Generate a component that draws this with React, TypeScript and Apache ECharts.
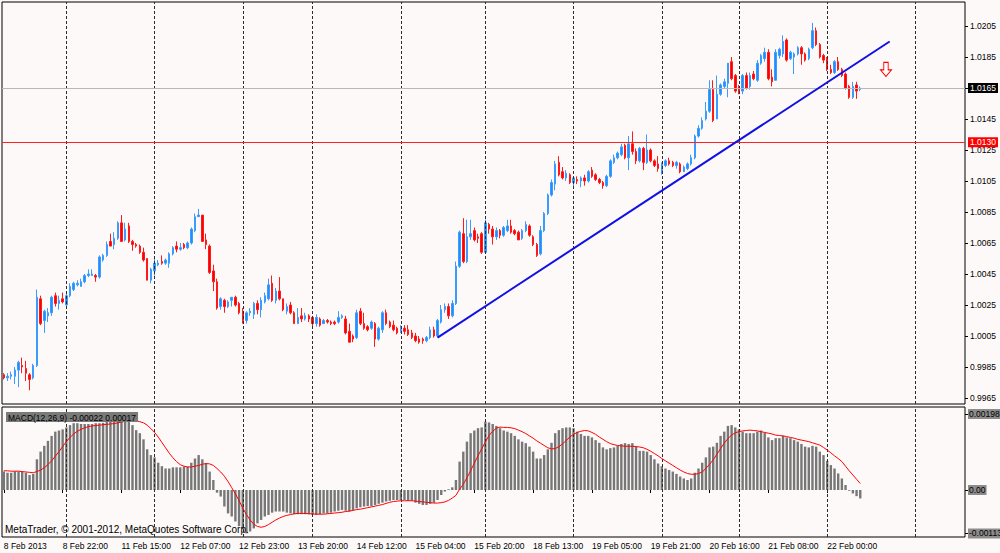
import React, { useEffect, useRef } from "react";
import * as echarts from "echarts";

// ---------- data ----------
const tickLabels = [
  "8 Feb 2013", "8 Feb 22:00", "11 Feb 15:00", "12 Feb 07:00", "12 Feb 23:00",
  "13 Feb 20:00", "14 Feb 12:00", "15 Feb 04:00", "15 Feb 20:00", "18 Feb 13:00",
  "19 Feb 05:00", "19 Feb 21:00", "20 Feb 16:00", "21 Feb 08:00", "22 Feb 00:00",
];
const labelEvery = 16;
const totalSlots = 262;
const daySeparators = [17, 41, 65, 84, 108, 131, 155, 179, 200, 224, 248];

const priceTicks = [0.9965, 0.9985, 1.0005, 1.0025, 1.0045, 1.0065, 1.0085, 1.0105, 1.0125, 1.0145, 1.0165, 1.0185, 1.0205];
const macdTicks = [-0.00113, 0, 0.00198];

const bidPrice = 1.0165;
const alertPrice = 1.013;
const trendStart = [118, 1.0004];
const trendEnd = [241, 1.0195];
const arrowMark = [240, 1.0177];

const opens = [
  0.9980,0.9978,0.9979,0.9979,0.9983,0.9986,0.9984,0.9980,0.9978,0.9986,
  1.0029,1.0015,1.0018,1.0020,1.0031,1.0026,1.0029,1.0025,1.0031,1.0035,
  1.0038,1.0037,1.0040,1.0044,1.0044,1.0044,1.0043,1.0054,1.0057,1.0066,
  1.0064,1.0068,1.0078,1.0067,1.0076,1.0066,1.0064,1.0063,1.0059,1.0055,
  1.0041,1.0047,1.0051,1.0053,1.0052,1.0052,1.0058,1.0063,1.0061,1.0064,
  1.0062,1.0065,1.0073,1.0082,1.0083,1.0067,1.0063,1.0047,1.0040,1.0024,
  1.0028,1.0024,1.0028,1.0030,1.0026,1.0021,1.0015,1.0020,1.0019,1.0026,
  1.0022,1.0027,1.0029,1.0039,1.0028,1.0034,1.0029,1.0021,1.0025,1.0020,
  1.0013,1.0018,1.0016,1.0018,1.0017,1.0013,1.0016,1.0013,1.0015,1.0014,
  1.0014,1.0014,1.0017,1.0016,1.0008,1.0005,1.0004,1.0021,1.0013,1.0011,
  1.0010,1.0013,1.0003,1.0009,1.0020,1.0014,1.0012,1.0010,1.0008,1.0010,
  1.0009,1.0007,1.0005,1.0003,1.0003,1.0002,1.0004,1.0009,1.0005,1.0014,
  1.0022,1.0024,1.0018,1.0026,1.0050,1.0071,1.0053,1.0069,1.0073,1.0069,
  1.0071,1.0059,1.0077,1.0074,1.0069,1.0073,1.0070,1.0073,1.0076,1.0073,
  1.0072,1.0068,1.0073,1.0076,1.0069,1.0064,1.0058,1.0073,1.0084,1.0096,
  1.0103,1.0117,1.0111,1.0107,1.0109,1.0104,1.0106,1.0105,1.0107,1.0105,
  1.0112,1.0109,1.0106,1.0104,1.0102,1.0108,1.0117,1.0120,1.0122,1.0128,
  1.0120,1.0129,1.0124,1.0118,1.0126,1.0117,1.0125,1.0118,1.0116,1.0110,
  1.0115,1.0118,1.0117,1.0115,1.0116,1.0111,1.0113,1.0116,1.0120,1.0134,
  1.0139,1.0145,1.0150,1.0164,1.0145,1.0161,1.0166,1.0168,1.0182,1.0173,
  1.0166,1.0163,1.0173,1.0166,1.0174,1.0170,1.0181,1.0184,1.0188,1.0172,
  1.0170,1.0186,1.0187,1.0196,1.0184,1.0185,1.0187,1.0191,1.0187,1.0184,
  1.0191,1.0202,1.0193,1.0186,1.0184,1.0177,1.0175,1.0182,1.0177,1.0174,
  1.0166,1.0159,1.0167,1.0164,
];
const highs = [
  0.9981,0.9981,0.9982,0.9985,0.9989,0.9991,0.9989,0.9981,0.9987,1.0035,
  1.0031,1.0022,1.0023,1.0031,1.0033,1.0031,1.0033,1.0033,1.0039,1.0040,
  1.0041,1.0042,1.0045,1.0048,1.0048,1.0045,1.0057,1.0058,1.0066,1.0071,
  1.0072,1.0079,1.0083,1.0078,1.0078,1.0067,1.0065,1.0064,1.0062,1.0055,
  1.0049,1.0055,1.0054,1.0057,1.0055,1.0059,1.0063,1.0066,1.0065,1.0065,
  1.0066,1.0075,1.0084,1.0087,1.0083,1.0071,1.0064,1.0051,1.0042,1.0030,
  1.0029,1.0028,1.0030,1.0031,1.0027,1.0023,1.0021,1.0023,1.0027,1.0028,
  1.0030,1.0033,1.0042,1.0044,1.0036,1.0043,1.0029,1.0026,1.0027,1.0021,
  1.0023,1.0023,1.0020,1.0019,1.0018,1.0019,1.0017,1.0016,1.0016,1.0015,
  1.0015,1.0021,1.0019,1.0018,1.0013,1.0006,1.0022,1.0023,1.0020,1.0012,
  1.0015,1.0014,1.0011,1.0021,1.0022,1.0015,1.0015,1.0011,1.0012,1.0012,
  1.0012,1.0009,1.0007,1.0005,1.0004,1.0005,1.0011,1.0011,1.0016,1.0025,
  1.0026,1.0026,1.0028,1.0053,1.0073,1.0081,1.0080,1.0080,1.0075,1.0071,
  1.0072,1.0080,1.0078,1.0076,1.0075,1.0074,1.0076,1.0080,1.0080,1.0074,
  1.0073,1.0074,1.0079,1.0077,1.0070,1.0065,1.0076,1.0085,1.0097,1.0106,
  1.0118,1.0121,1.0114,1.0112,1.0110,1.0108,1.0108,1.0108,1.0109,1.0112,
  1.0114,1.0110,1.0107,1.0105,1.0109,1.0119,1.0122,1.0124,1.0129,1.0129,
  1.0134,1.0137,1.0126,1.0127,1.0127,1.0135,1.0126,1.0119,1.0121,1.0117,
  1.0119,1.0120,1.0118,1.0118,1.0117,1.0115,1.0117,1.0122,1.0135,1.0141,
  1.0146,1.0156,1.0170,1.0170,1.0173,1.0168,1.0171,1.0181,1.0185,1.0174,
  1.0167,1.0174,1.0175,1.0175,1.0176,1.0183,1.0187,1.0191,1.0190,1.0177,
  1.0190,1.0191,1.0199,1.0197,1.0189,1.0188,1.0192,1.0192,1.0188,1.0191,
  1.0207,1.0204,1.0194,1.0187,1.0185,1.0180,1.0183,1.0185,1.0178,1.0175,
  1.0167,1.0169,1.0169,1.0166,
];
const lows = [
  0.9977,0.9976,0.9977,0.9974,0.9972,0.9981,0.9976,0.9970,0.9977,0.9985,
  1.0012,1.0007,1.0014,1.0018,1.0024,1.0022,1.0026,1.0024,1.0030,1.0034,
  1.0037,1.0037,1.0039,1.0043,1.0044,1.0040,1.0042,1.0053,1.0056,1.0063,
  1.0061,1.0067,1.0066,1.0066,1.0065,1.0060,1.0062,1.0058,1.0053,1.0041,
  1.0039,1.0044,1.0050,1.0051,1.0051,1.0049,1.0057,1.0059,1.0060,1.0061,
  1.0061,1.0064,1.0072,1.0082,1.0066,1.0061,1.0045,1.0034,1.0022,1.0022,
  1.0020,1.0023,1.0024,1.0024,1.0019,1.0013,1.0013,1.0018,1.0016,1.0019,
  1.0017,1.0026,1.0028,1.0027,1.0026,1.0028,1.0021,1.0019,1.0019,1.0013,
  1.0013,1.0014,1.0015,1.0014,1.0011,1.0011,1.0011,1.0013,1.0013,1.0012,
  1.0012,1.0013,1.0016,1.0006,1.0001,1.0001,1.0003,1.0012,1.0009,1.0008,
  1.0009,0.9998,1.0002,1.0007,1.0012,1.0010,1.0008,1.0006,1.0007,1.0006,
  1.0005,1.0003,1.0001,1.0000,1.0000,1.0001,1.0003,1.0004,1.0004,1.0013,
  1.0020,1.0016,1.0017,1.0025,1.0049,1.0052,1.0052,1.0067,1.0066,1.0065,
  1.0058,1.0058,1.0071,1.0064,1.0067,1.0068,1.0069,1.0072,1.0071,1.0070,
  1.0067,1.0067,1.0072,1.0069,1.0063,1.0056,1.0057,1.0072,1.0083,1.0095,
  1.0099,1.0108,1.0106,1.0105,1.0103,1.0100,1.0103,1.0101,1.0102,1.0104,
  1.0107,1.0105,1.0103,1.0100,1.0101,1.0107,1.0116,1.0119,1.0121,1.0119,
  1.0112,1.0122,1.0116,1.0117,1.0112,1.0116,1.0117,1.0114,1.0111,1.0109,
  1.0114,1.0115,1.0114,1.0113,1.0110,1.0111,1.0112,1.0115,1.0119,1.0133,
  1.0138,1.0144,1.0149,1.0143,1.0145,1.0160,1.0165,1.0159,1.0170,1.0162,
  1.0161,1.0161,1.0164,1.0164,1.0170,1.0169,1.0180,1.0182,1.0170,1.0166,
  1.0170,1.0184,1.0185,1.0182,1.0183,1.0174,1.0186,1.0180,1.0182,1.0183,
  1.0190,1.0192,1.0184,1.0181,1.0176,1.0174,1.0174,1.0176,1.0172,1.0164,
  1.0158,1.0158,1.0158,1.0163,
];
const closes = [
  0.9978,0.9979,0.9980,0.9983,0.9988,0.9985,0.9981,0.9977,0.9986,1.0030,
  1.0013,1.0021,1.0020,1.0030,1.0026,1.0028,1.0027,1.0031,1.0037,1.0039,
  1.0039,1.0040,1.0044,1.0045,1.0045,1.0043,1.0056,1.0057,1.0064,1.0063,
  1.0068,1.0078,1.0066,1.0074,1.0066,1.0064,1.0063,1.0059,1.0054,1.0041,
  1.0048,1.0052,1.0052,1.0052,1.0054,1.0058,1.0062,1.0061,1.0062,1.0062,
  1.0065,1.0074,1.0082,1.0083,1.0066,1.0064,1.0046,1.0040,1.0023,1.0029,
  1.0024,1.0027,1.0030,1.0025,1.0020,1.0015,1.0020,1.0021,1.0026,1.0022,
  1.0028,1.0031,1.0038,1.0028,1.0034,1.0029,1.0022,1.0024,1.0020,1.0013,
  1.0017,1.0016,1.0018,1.0016,1.0013,1.0017,1.0012,1.0015,1.0014,1.0013,
  1.0013,1.0017,1.0018,1.0007,1.0001,1.0003,1.0020,1.0013,1.0010,1.0009,
  1.0014,1.0003,1.0010,1.0020,1.0013,1.0011,1.0009,1.0007,1.0010,1.0008,
  1.0006,1.0004,1.0002,1.0001,1.0002,1.0004,1.0009,1.0005,1.0015,1.0022,
  1.0024,1.0018,1.0026,1.0050,1.0072,1.0053,1.0069,1.0071,1.0067,1.0068,
  1.0059,1.0078,1.0074,1.0069,1.0073,1.0070,1.0075,1.0076,1.0072,1.0071,
  1.0067,1.0073,1.0077,1.0070,1.0064,1.0057,1.0073,1.0084,1.0096,1.0104,
  1.0116,1.0109,1.0107,1.0110,1.0104,1.0107,1.0105,1.0107,1.0105,1.0111,
  1.0108,1.0106,1.0104,1.0102,1.0108,1.0118,1.0120,1.0123,1.0127,1.0120,
  1.0129,1.0124,1.0118,1.0126,1.0117,1.0125,1.0118,1.0115,1.0113,1.0116,
  1.0118,1.0116,1.0115,1.0117,1.0111,1.0114,1.0116,1.0120,1.0134,1.0139,
  1.0144,1.0150,1.0164,1.0144,1.0161,1.0167,1.0169,1.0181,1.0171,1.0163,
  1.0162,1.0173,1.0165,1.0173,1.0171,1.0181,1.0186,1.0188,1.0171,1.0169,
  1.0188,1.0190,1.0195,1.0183,1.0188,1.0187,1.0191,1.0187,1.0183,1.0190,
  1.0202,1.0193,1.0185,1.0183,1.0177,1.0175,1.0182,1.0177,1.0173,1.0165,
  1.0159,1.0166,1.0163,1.0165,
];

const macdMain = [
  0.00048,0.00045,0.00045,0.00048,0.00048,0.00048,0.00045,0.00039,0.00042,0.0008,
  0.001,0.00115,0.00128,0.00141,0.00152,0.00155,0.00158,0.00163,0.00169,0.00174,
  0.00174,0.00172,0.00172,0.00172,0.00172,0.00174,0.00174,0.00175,0.0018,0.00184,
  0.00189,0.00194,0.00198,0.00195,0.00186,0.00169,0.00156,0.00148,0.00132,0.00106,
  0.00091,0.00085,0.00071,0.00062,0.00056,0.00056,0.00059,0.00059,0.00059,0.00061,
  0.00061,0.00071,0.00082,0.00091,0.0008,0.00069,0.00048,0.00026,-0.00007,-0.00017,
  -0.00043,-0.00061,-0.00069,-0.00082,-0.00094,-0.00102,-0.00113,-0.00108,-0.001,-0.00087,
  -0.00078,-0.00069,-0.00065,-0.00059,-0.00056,-0.00056,-0.00056,-0.00059,-0.00061,-0.00063,
  -0.00063,-0.00063,-0.00063,-0.00063,-0.00065,-0.00065,-0.00063,-0.00061,-0.00061,-0.00059,
  -0.00056,-0.00054,-0.00052,-0.00054,-0.00056,-0.00052,-0.00048,-0.00045,-0.00043,-0.00042,
  -0.00042,-0.00039,-0.00036,-0.00033,-0.0003,-0.00028,-0.00026,-0.00026,-0.00026,-0.00026,
  -0.00028,-0.00028,-0.00033,-0.00036,-0.00039,-0.00039,-0.00036,-0.00033,-0.00026,-0.00013,
  -0.00004,0.00002,0.00007,0.00026,0.00074,0.001,0.00126,0.00148,0.00155,0.00161,
  0.00163,0.00178,0.00176,0.00172,0.00167,0.00161,0.00155,0.00152,0.00148,0.00141,
  0.00132,0.00126,0.00122,0.00113,0.001,0.00082,0.00082,0.00091,0.00106,0.00123,
  0.00148,0.00156,0.00161,0.00163,0.00163,0.00161,0.00152,0.00146,0.00141,0.00141,
  0.00137,0.0013,0.00123,0.00111,0.00106,0.00109,0.00111,0.00115,0.0012,0.00122,
  0.0012,0.00122,0.00113,0.00102,0.00102,0.001,0.00091,0.0008,0.00069,0.00062,
  0.00056,0.00052,0.00048,0.00042,0.00035,0.0003,0.00026,0.0003,0.00045,0.00056,
  0.00071,0.00085,0.00111,0.00113,0.00123,0.00141,0.00152,0.00167,0.00169,0.00163,
  0.00158,0.00152,0.00148,0.00148,0.00148,0.00152,0.00155,0.00149,0.00137,0.0013,
  0.00135,0.00135,0.00141,0.00137,0.00135,0.0013,0.00126,0.0012,0.00113,0.00111,
  0.00115,0.00113,0.001,0.00091,0.00076,0.00065,0.00056,0.00043,0.0003,0.00013,
  -0.00002,-0.00009,-0.00016,-0.00022,
];
const macdSignal = [
  0.0005,0.0005,0.00049,0.00049,0.00049,0.00048,0.00047,0.00046,0.00045,0.00048,
  0.00052,0.00058,0.00066,0.00076,0.00088,0.001,0.00113,0.00126,0.00137,0.00146,
  0.00153,0.00158,0.00162,0.00165,0.00167,0.00168,0.00169,0.0017,0.00171,0.00172,
  0.00173,0.00175,0.00177,0.00179,0.0018,0.0018,0.0018,0.00178,0.00175,0.00169,
  0.0016,0.0015,0.00138,0.00124,0.0011,0.00096,0.00084,0.00074,0.00066,0.00062,
  0.0006,0.0006,0.00062,0.00064,0.00067,0.00069,0.00068,0.00064,0.00056,0.00047,
  0.00036,0.00022,0.00006,-0.0001,-0.00028,-0.00047,-0.00064,-0.00078,-0.00089,-0.00095,
  -0.00097,-0.00095,-0.0009,-0.00084,-0.00078,-0.00073,-0.00069,-0.00066,-0.00064,-0.00062,
  -0.00061,-0.00061,-0.00061,-0.00062,-0.00062,-0.00063,-0.00063,-0.00063,-0.00062,-0.00061,
  -0.0006,-0.00059,-0.00058,-0.00056,-0.00055,-0.00053,-0.00051,-0.0005,-0.00048,-0.00046,
  -0.00044,-0.00042,-0.0004,-0.00038,-0.00035,-0.00032,-0.0003,-0.00029,-0.00028,-0.00028,
  -0.00028,-0.00028,-0.00029,-0.0003,-0.00031,-0.00032,-0.00033,-0.00034,-0.00034,-0.00033,
  -0.00031,-0.00027,-0.00021,-0.00014,0.00002,0.00015,0.00032,0.0005,0.0007,0.00089,
  0.00107,0.00125,0.00142,0.00153,0.00161,0.00164,0.00163,0.00163,0.00162,0.0016,
  0.00156,0.00152,0.00147,0.00141,0.00135,0.00128,0.00122,0.00116,0.0011,0.00107,
  0.00108,0.00113,0.0012,0.00129,0.00138,0.00145,0.0015,0.00153,0.00155,0.00154,
  0.0015,0.00145,0.00138,0.00132,0.00126,0.00121,0.00118,0.00116,0.00115,0.00114,
  0.00114,0.00114,0.00113,0.00112,0.0011,0.00106,0.00101,0.00095,0.00089,0.00082,
  0.00076,0.0007,0.00064,0.00058,0.00052,0.00047,0.00043,0.00041,0.00041,0.00043,
  0.00047,0.00056,0.00067,0.00079,0.00093,0.00108,0.00122,0.00134,0.00143,0.00149,
  0.00152,0.00154,0.00155,0.00156,0.00155,0.00154,0.00152,0.0015,0.00148,0.00146,
  0.00143,0.00142,0.00141,0.00139,0.00137,0.00135,0.00132,0.0013,0.00128,0.00126,
  0.00123,0.0012,0.00117,0.00111,0.00104,0.00097,0.00089,0.00082,0.00074,0.00062,
  0.0005,0.00039,0.00028,0.00017,
];

// ---------- layout / style ----------
const FONT = '"Liberation Sans", Arial, sans-serif';
const BG = "#fcf9f8";

export default function App() {
  const ref = useRef<HTMLDivElement>(null);

  useEffect(() => {
    if (!ref.current) return;
    const chart = echarts.init(ref.current, null, { renderer: "svg" });
    const nBars = closes.length;
    const categories = Array.from({ length: totalSlots }, (_, i) => String(i));
    const candleData = opens.map((o, i) => [o, closes[i], lows[i], highs[i]]);
    const showTick = (i: number) => i % labelEvery === 0 && i < nBars;
    const labelAt = (i: number) =>
      i % labelEvery === 0 && tickLabels[i / labelEvery] ? tickLabels[i / labelEvery] : "";

    const sepLine = { color: "#2b2b2b", type: [3, 2], width: 1 };
    const separators = daySeparators.map((i) => ({ xAxis: i }));
    const last = nBars - 1;
    const priceLabel = (bg: string, txt: string) => ({
      show: true, position: "end", distance: 3, formatter: txt, color: "#fff",
      backgroundColor: bg, padding: [1, 2, 0, 2], fontSize: 8.5, fontFamily: FONT,
    });

    const option: any = {
      animation: false,
      backgroundColor: BG,
      grid: [
        { left: 2, right: 35, top: 2, height: 402, show: true, borderColor: "#000", borderWidth: 1, backgroundColor: BG, containLabel: false, outerBoundsMode: "none" },
        { left: 2, right: 35, top: 407, height: 130, show: true, borderColor: "#000", borderWidth: 1, backgroundColor: BG, containLabel: false, outerBoundsMode: "none" },
      ],
      xAxis: [
        {
          type: "category", gridIndex: 0, data: categories, boundaryGap: true,
          axisLine: { show: false }, axisTick: { show: false }, axisLabel: { show: false }, splitLine: { show: false },
        },
        {
          type: "category", gridIndex: 1, data: categories, boundaryGap: true,
          axisLine: { show: false },
          axisTick: { show: true, interval: (i: number) => showTick(i), alignWithLabel: true, length: 3, lineStyle: { color: "#000" } },
          axisLabel: {
            show: true, interval: (i: number) => showTick(i), formatter: (_v: string, i: number) => labelAt(i),
            align: "left", fontSize: 8.5, color: "#000", margin: 4, fontFamily: FONT,
          },
          splitLine: { show: false },
        },
      ],
      yAxis: [
        {
          type: "value", gridIndex: 0, position: "right", min: 0.9961129, max: 1.0220484,
          splitLine: { show: false }, axisLine: { show: false },
          axisTick: { show: true, customValues: priceTicks, length: 3, lineStyle: { color: "#000" } },
          axisLabel: { customValues: priceTicks, formatter: (v: number) => v.toFixed(4), fontSize: 8.5, color: "#000", margin: 5, fontFamily: FONT },
        },
        {
          type: "value", gridIndex: 1, position: "right", min: -0.0012244, max: 0.0021624,
          splitLine: { show: false }, axisLine: { show: false },
          axisTick: { show: true, customValues: macdTicks, length: 3, lineStyle: { color: "#000" } },
          axisLabel: {
            customValues: macdTicks,
            formatter: (v: number) => (Math.abs(v) < 1e-9 ? "0.00" : v.toFixed(5)),
            fontSize: 8.5, color: "#000", margin: 3, fontFamily: FONT,
            backgroundColor: "#8c8c8c", padding: [1, 1, 0, 1],
          },
        },
      ],
      series: [
        {
          type: "candlestick", name: "EURCHF", xAxisIndex: 0, yAxisIndex: 0,
          data: candleData, barWidth: 2,
          itemStyle: { color: "#1e8fff", color0: "#ff0000", borderColor: "#3a9cff", borderColor0: "#ff1a1a", borderWidth: 1 },
          markLine: {
            silent: true, symbol: ["none", "none"], animation: false, precision: 6,
            label: { show: false }, lineStyle: sepLine, data: separators,
          },
        },
        {
          type: "scatter", xAxisIndex: 0, yAxisIndex: 0, silent: true,
          data: [arrowMark],
          symbol: "path://M3,0 L7,0 L7,7 L10,7 L5,13 L0,7 L3,7 Z",
          symbolSize: [11, 14],
          itemStyle: { color: "#ffffff", borderColor: "#ff0000", borderWidth: 1, opacity: 1 },
          markLine: {
            silent: true, symbol: ["none", "none"], animation: false, precision: 6,
            label: { show: false },
            data: [
              { yAxis: bidPrice, lineStyle: { color: "#b8b8b8", type: "solid", width: 1 }, label: priceLabel("#000", bidPrice.toFixed(4)) },
              { yAxis: alertPrice, lineStyle: { color: "#ff2020", type: "solid", width: 1 }, label: priceLabel("#ff0000", alertPrice.toFixed(4)) },
              [
                { coord: trendStart, lineStyle: { color: "#1010e6", type: "solid", width: 2 } },
                { coord: trendEnd },
              ],
            ],
          },
        },
        {
          type: "bar", name: "MACD", xAxisIndex: 1, yAxisIndex: 1,
          data: macdMain, barWidth: 2.4,
          itemStyle: { color: "#777777" },
          markLine: {
            silent: true, symbol: ["none", "none"], animation: false, precision: 6,
            label: { show: false }, lineStyle: sepLine, data: separators,
          },
        },
        {
          type: "line", name: "Signal", xAxisIndex: 1, yAxisIndex: 1,
          data: macdSignal, showSymbol: false, symbol: "none", smooth: false,
          lineStyle: { color: "#ff0000", width: 1 }, z: 5,
        },
      ],
      graphic: [
        {
          type: "text", left: 6, top: 412, z: 100,
          style: {
            text: `MACD(12,26,9) ${macdMain[last].toFixed(5)} ${macdSignal[last].toFixed(5)}`,
            fill: "#000", font: `8.5px ${FONT}`, backgroundColor: "#7a7a7a", padding: [1, 2, 0, 2],
          },
        },
        {
          type: "text", left: 5, top: 524, z: 100,
          style: { text: "MetaTrader, © 2001-2012, MetaQuotes Software Corp.", fill: "#000", font: `10px ${FONT}` },
        },
      ],
    };

    chart.setOption(option);
    return () => chart.dispose();
  }, []);

  return <div ref={ref} style={{ position: "fixed", left: 0, top: 0, width: 1000, height: 553, background: BG }} />;
}
